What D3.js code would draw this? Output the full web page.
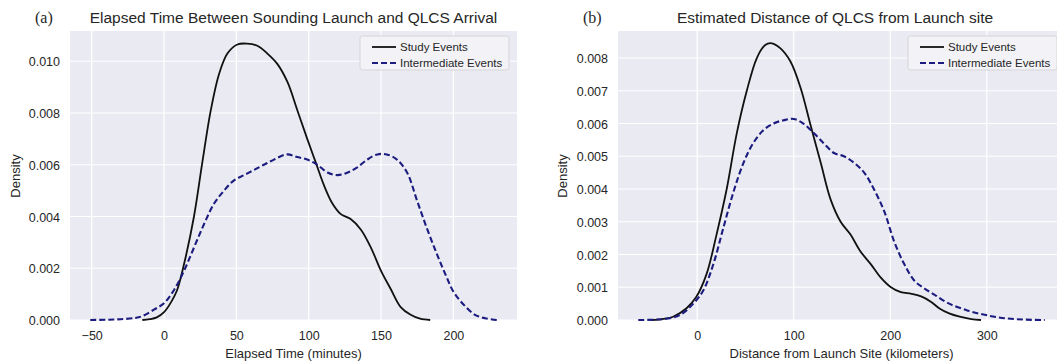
<!DOCTYPE html>
<html><head><meta charset="utf-8">
<script src="https://cdn.jsdelivr.net/npm/d3@7"></script>
<style>
body{margin:0;background:#fff}
text{font-family:"Liberation Sans",Arial,sans-serif;fill:#262626}
</style>
</head><body>
<svg id="chart" width="1057" height="363"></svg>
<script>
// ---------- DATA ----------
const elapsedXTicks = [-50, 0, 50, 100, 150, 200];
const elapsedYTicks = [0, 0.002, 0.004, 0.006, 0.008, 0.010];
const distanceXTicks = [0, 100, 200, 300];
const distanceYTicks = [0, 0.001, 0.002, 0.003, 0.004, 0.005, 0.006, 0.007, 0.008];
const seriesNames = ["Study Events", "Intermediate Events"];

// Panel (a): elapsed time (minutes) vs density
const studyElapsed = [[-15,0],[-10,0.00003],[-5,0.0001],[0,0.0003],[5,0.0007],[9,0.00115],[14,0.0022],[20.7,0.004],[26.5,0.0061],[32.3,0.0081],[38,0.0095],[43.8,0.0103],[50.7,0.01065],[57.6,0.01068],[64.5,0.0106],[71.4,0.0103],[78.3,0.0099],[85.3,0.0092],[92.2,0.0081],[99,0.007],[104.8,0.0061],[110.6,0.0052],[116.4,0.0045],[122,0.0041],[129,0.0039],[136,0.0035],[143,0.0028],[150,0.0019],[156.7,0.0012],[163.6,0.0005],[170.5,0.0002],[177,0.00005],[184,0]];
const interElapsed = [[-51,0],[-40,0.00001],[-30,0.00003],[-20,0.00008],[-15,0.00015],[-7,0.0004],[0,0.00065],[6.9,0.00116],[13.8,0.0019],[20.7,0.0028],[27.6,0.0037],[34.6,0.0045],[41.5,0.005],[48.4,0.0054],[55.3,0.0056],[62.2,0.0058],[69,0.006],[76,0.0062],[85,0.0064],[92,0.0063],[99,0.0062],[106,0.006],[113,0.0057],[120,0.0056],[127,0.0057],[133.6,0.0059],[140.5,0.0062],[147.5,0.0064],[154,0.0064],[161,0.0062],[168,0.0057],[175,0.0046],[182,0.0035],[189,0.0025],[195,0.0017],[200,0.0011],[207,0.0006],[215,0.0002],[222,0.00007],[230,0]];

// Panel (b): distance (km) vs density
const studyDistance = [[-48,0],[-39,0.00002],[-25,0.0001],[-11,0.00036],[-1,0.0007],[9.7,0.0014],[20,0.0026],[30.6,0.004],[41,0.0057],[51.4,0.007],[61.8,0.008],[70.5,0.0084],[77.4,0.00845],[86,0.0083],[96.5,0.0079],[107,0.0071],[117,0.006],[128,0.0048],[138,0.0037],[148.6,0.003],[159,0.0026],[169,0.0021],[180,0.0017],[190,0.0013],[200.7,0.001],[211,0.00085],[222,0.0008],[232,0.00072],[242,0.00056],[251,0.00035],[261,0.0002],[272,0.0001],[284,0.00003],[294,0]];
const interDistance = [[-61,0],[-45,0.00001],[-32,0.00004],[-18,0.00015],[-4,0.0005],[6.3,0.0009],[16.7,0.0017],[27,0.0028],[37.5,0.0039],[48,0.0048],[58,0.0054],[68.8,0.0058],[79,0.006],[89.6,0.0061],[100,0.00614],[110,0.006],[121,0.0057],[131,0.0054],[141.7,0.0051],[152,0.005],[162.5,0.0048],[173,0.0045],[183,0.004],[194,0.0033],[204,0.0024],[214.6,0.0017],[225,0.0012],[235,0.00097],[246,0.00077],[261,0.0005],[279,0.0003],[299,0.00015],[320,0.00005],[341,0.00001],[360,0]];

// ---------- DRAW ----------
const svg = d3.select("#chart");
svg.append("rect").attr("width",1057).attr("height",363).attr("fill","#fff");

const styles = [
  {stroke:"#111", width:1.8, dash:null},
  {stroke:"#1c1c80", width:2.1, dash:"6,3"}
];

function panel(cfg){
  const g = svg.append("g");
  const x = d3.scaleLinear().domain(cfg.xDomain).range([cfg.left, cfg.right]);
  const y = d3.scaleLinear().domain(cfg.yDomain).range([cfg.bottom, cfg.top]);
  const id = "clip"+cfg.letter;
  svg.append("clipPath").attr("id",id).append("rect")
    .attr("x",cfg.left).attr("y",cfg.top).attr("width",cfg.right-cfg.left).attr("height",cfg.bottom-cfg.top+1);
  g.append("rect").attr("x",cfg.left).attr("y",cfg.top)
    .attr("width",cfg.right-cfg.left).attr("height",cfg.bottom-cfg.top).attr("fill","#EAEAF2");
  // grid
  const grid = g.append("g");
  grid.selectAll(".vx").data(cfg.xTicks).join("line")
    .attr("x1",d=>x(d)).attr("x2",d=>x(d)).attr("y1",cfg.top).attr("y2",cfg.bottom)
    .attr("stroke","#fff").attr("stroke-width",1.2);
  grid.selectAll(".hy").data(cfg.yTicks).join("line")
    .attr("y1",d=>y(d)).attr("y2",d=>y(d)).attr("x1",cfg.left).attr("x2",cfg.right)
    .attr("stroke","#fff").attr("stroke-width",1.2);
  // axes via d3 axis, styled without domain/ticks
  const xAxis = g.append("g").attr("transform",`translate(0,${cfg.bottom})`)
    .call(d3.axisBottom(x).tickValues(cfg.xTicks).tickSize(0).tickPadding(0)
      .tickFormat(d=>d<0?"\u2212"+Math.abs(d):String(d)));
  xAxis.select(".domain").remove();
  xAxis.selectAll("text").attr("font-size",12.5).attr("font-family","Liberation Sans, Arial, sans-serif")
    .attr("fill","#333").attr("dy",null).attr("y",19.5);
  const yAxis = g.append("g").attr("transform",`translate(${cfg.left},0)`)
    .call(d3.axisLeft(y).tickValues(cfg.yTicks).tickSize(0).tickPadding(10).tickFormat(d3.format(".3f")));
  yAxis.select(".domain").remove();
  yAxis.selectAll("text").attr("font-size",12.5).attr("font-family","Liberation Sans, Arial, sans-serif")
    .attr("fill","#333").attr("dy","0.36em");
  // curves
  const line = d3.line().x(d=>x(d[0])).y(d=>Math.min(cfg.bottom, y(d[1]))).curve(d3.curveCatmullRom.alpha(0.5));
  const cg = g.append("g").attr("clip-path",`url(#${id})`);
  cfg.series.forEach((s,i)=>{
    cg.append("path").datum(s).attr("d",line).attr("fill","none")
      .attr("stroke",styles[i].stroke).attr("stroke-width",styles[i].width)
      .attr("stroke-dasharray",styles[i].dash).attr("stroke-linejoin","round");
  });
  // labels
  g.append("text").attr("x",(cfg.left+cfg.right)/2).attr("y",358).attr("text-anchor","middle")
    .attr("font-size",13).text(cfg.xLabel);
  g.append("text").attr("transform",`translate(${cfg.yLabelX},176) rotate(-90)`).attr("text-anchor","middle")
    .attr("font-size",13).text("Density");
  g.append("text").attr("x",cfg.titleX).attr("y",23).attr("text-anchor","middle")
    .attr("font-size",15.5).text(cfg.title);
  g.append("text").attr("x",cfg.letterX).attr("y",23).attr("font-size",16)
    .style("font-family","Liberation Serif, Times New Roman, serif").text(`(${cfg.letter})`);
  // legend
  const lg = g.append("g").attr("transform",`translate(${cfg.legendX},36)`);
  lg.append("rect").attr("width",149).attr("height",34).attr("rx",2.5)
    .attr("fill","#F3F3F7").attr("stroke","#D5D5D8").attr("stroke-width",1);
  seriesNames.forEach((n,i)=>{
    const yy = 11 + i*16;
    lg.append("line").attr("x1",12).attr("x2",36).attr("y1",yy).attr("y2",yy)
      .attr("stroke",styles[i].stroke).attr("stroke-width",styles[i].width)
      .attr("stroke-dasharray",styles[i].dash);
    lg.append("text").attr("x",40).attr("y",yy).attr("dy","0.35em").attr("font-size",11.5).text(n);
  });
}

panel({letter:"a", left:70, right:517, top:31, bottom:320,
  xDomain:[-65,244], yDomain:[0,0.01117], xTicks:elapsedXTicks, yTicks:elapsedYTicks,
  series:[studyElapsed, interElapsed], xLabel:"Elapsed Time (minutes)", yLabelX:19.5,
  title:"Elapsed Time Between Sounding Launch and QLCS Arrival", titleX:293.5, letterX:35, legendX:360});

panel({letter:"b", left:618, right:1065, top:31, bottom:320,
  xDomain:[-82,381], yDomain:[0,0.008825], xTicks:distanceXTicks, yTicks:distanceYTicks,
  series:[studyDistance, interDistance], xLabel:"Distance from Launch Site (kilometers)", yLabelX:566.5,
  title:"Estimated Distance of QLCS from Launch site", titleX:835, letterX:583, legendX:908});
</script>
</body></html>
